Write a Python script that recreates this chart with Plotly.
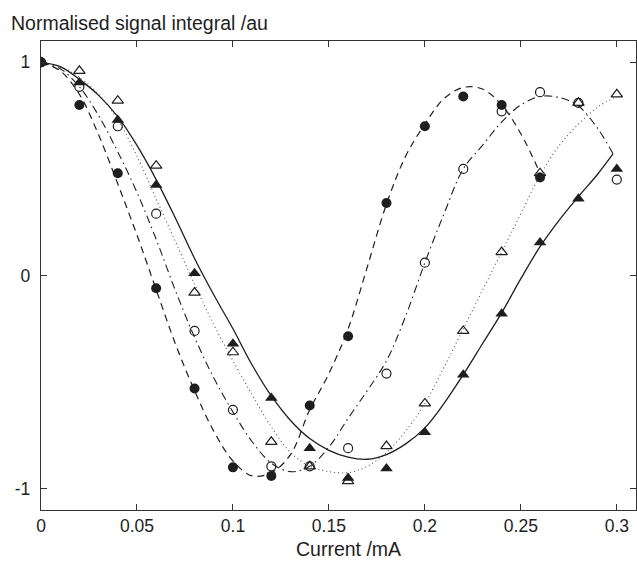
import plotly.graph_objects as go

# Measured points: current in mA, one series per marker style
current = [0.00, 0.02, 0.04, 0.06, 0.08, 0.10, 0.12, 0.14,
           0.16, 0.18, 0.20, 0.22, 0.24, 0.26, 0.28, 0.30]

filled_circles = [1.00, 0.80, 0.48, -0.06, -0.53, -0.90, -0.94, -0.61,
                  -0.285, 0.34, 0.70, 0.84, 0.80, 0.46]
open_circles = [1.00, 0.885, 0.70, 0.29, -0.26, -0.63, -0.895, -0.895,
                -0.81, -0.46, 0.06, 0.50, 0.77, 0.86, 0.81, 0.45]
open_triangles = [1.00, 0.96, 0.82, 0.515, -0.08, -0.36, -0.78, -0.895,
                  -0.965, -0.80, -0.60, -0.26, 0.11, 0.48, 0.81, 0.85]
filled_triangles = [1.00, 0.905, 0.73, 0.425, 0.01, -0.32, -0.575, -0.81,
                    -0.95, -0.905, -0.735, -0.465, -0.18, 0.155, 0.36, 0.50]

# Fitted curves, sampled every 0.01 mA
fit_dashed_x = [i / 100 for i in range(0, 27)]
fit_dashed_y = [1.00, 0.96, 0.85, 0.66, 0.43, 0.19, -0.066, -0.32, -0.54,
                -0.73, -0.87, -0.94, -0.925, -0.84, -0.63, -0.46, -0.25,
                0.04, 0.335, 0.56, 0.71, 0.83, 0.882, 0.875, 0.80, 0.665, 0.48]

fit_dashdot_x = [i / 100 for i in range(0, 30)] + [0.298]
fit_dashdot_y = [1.00, 0.97, 0.885, 0.75, 0.58, 0.39, 0.17, -0.07, -0.29,
                 -0.48, -0.64, -0.78, -0.88, -0.92, -0.895, -0.805, -0.67,
                 -0.54, -0.40, -0.19, 0.06, 0.29, 0.50, 0.61, 0.72, 0.80,
                 0.84, 0.835, 0.795, 0.69, 0.571]

fit_dotted_x = [i / 100 for i in range(0, 31)]
fit_dotted_y = [1.00, 0.98, 0.93, 0.85, 0.73, 0.56, 0.36, 0.16, -0.04,
                -0.23, -0.40, -0.56, -0.71, -0.83, -0.895, -0.92, -0.925,
                -0.895, -0.83, -0.73, -0.60, -0.43, -0.25, -0.07, 0.11,
                0.29, 0.47, 0.61, 0.71, 0.79, 0.84]

fit_solid_x = [i / 100 for i in range(0, 30)] + [0.298]
fit_solid_y = [1.00, 0.98, 0.92, 0.845, 0.745, 0.61, 0.45, 0.27, 0.08,
               -0.09, -0.25, -0.42, -0.565, -0.68, -0.765, -0.82, -0.852,
               -0.862, -0.84, -0.79, -0.715, -0.60, -0.465, -0.32, -0.175,
               -0.015, 0.135, 0.26, 0.37, 0.475, 0.57]

x_ticks = [0, 0.05, 0.10, 0.15, 0.20, 0.25, 0.30]
x_tick_text = ["0", "0.05", "0.1", "0.15", "0.2", "0.25", "0.3"]
y_ticks = [-1, 0, 1]
y_tick_text = ["-1", "0", "1"]

INK = "#1e1e1e"
FONT = "Liberation Sans, Arial, Helvetica, sans-serif"

fig = go.Figure()

# curves first so the markers sit on top
fig.add_trace(go.Scatter(x=fit_dotted_x, y=fit_dotted_y, mode="lines",
                         line=dict(color="#555", width=1.1, dash="1px,3px", shape="spline")))
fig.add_trace(go.Scatter(x=fit_dashdot_x, y=fit_dashdot_y, mode="lines",
                         line=dict(color=INK, width=1.1, dash="8px,4px,1.5px,4px", shape="spline")))
fig.add_trace(go.Scatter(x=fit_dashed_x, y=fit_dashed_y, mode="lines",
                         line=dict(color=INK, width=1.2, dash="7px,5px", shape="spline")))
fig.add_trace(go.Scatter(x=fit_solid_x, y=fit_solid_y, mode="lines",
                         line=dict(color=INK, width=1.3, shape="spline")))

fig.add_trace(go.Scatter(x=current[:len(open_triangles)], y=open_triangles, mode="markers",
                         marker=dict(symbol="triangle-up-open", size=10, color=INK,
                                     line=dict(width=1.2, color=INK))))
fig.add_trace(go.Scatter(x=current[:len(open_circles)], y=open_circles, mode="markers",
                         marker=dict(symbol="circle-open", size=9, color=INK,
                                     line=dict(width=1.2, color=INK))))
fig.add_trace(go.Scatter(x=current[:len(filled_triangles)], y=filled_triangles, mode="markers",
                         marker=dict(symbol="triangle-up", size=11, color=INK,
                                     line=dict(width=0))))
fig.add_trace(go.Scatter(x=current[:len(filled_circles)], y=filled_circles, mode="markers",
                         marker=dict(symbol="circle", size=10, color=INK,
                                     line=dict(width=0))))

axis_common = dict(showgrid=False, zeroline=False, showline=True, mirror="ticks",
                   linecolor="#333", linewidth=1.3, ticks="inside", ticklen=6,
                   tickwidth=1.2, tickcolor="#333",
                   tickfont=dict(family=FONT, size=17.5, color=INK))

fig.update_layout(
    width=637, height=561,
    margin=dict(l=41, r=1, t=41, b=51),
    paper_bgcolor="white", plot_bgcolor="white",
    showlegend=False,
    xaxis=dict(range=[0, 0.31], tickvals=x_ticks, ticktext=x_tick_text, **axis_common),
    yaxis=dict(range=[-1.1, 1.1], tickvals=y_ticks, ticktext=y_tick_text,
               ticklabelstandoff=6, **axis_common),
    annotations=[
        dict(text="Normalised signal integral /au", xref="paper", yref="paper",
             x=-0.054, y=1.038, xanchor="left", yanchor="middle", showarrow=False,
             font=dict(family=FONT, size=19.5, color=INK)),
        dict(text="Current /mA", xref="paper", yref="paper",
             x=0.516, y=-0.084, xanchor="center", yanchor="middle", showarrow=False,
             font=dict(family=FONT, size=19.5, color=INK)),
    ],
)

fig.write_html("out.html")
